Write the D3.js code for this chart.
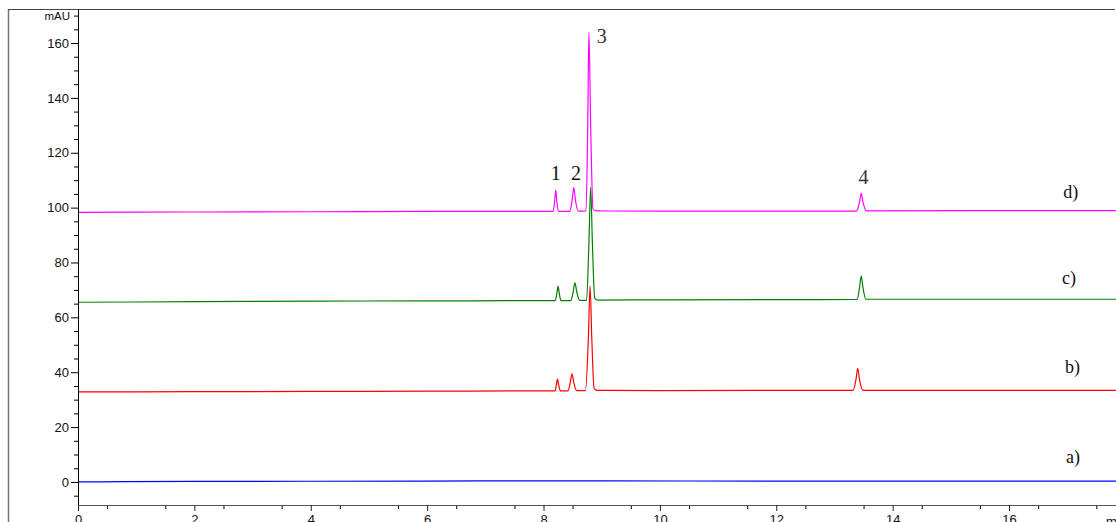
<!DOCTYPE html>
<html>
<head>
<meta charset="utf-8">
<script src="https://cdn.jsdelivr.net/npm/d3@7"></script>
<style>
  body { margin: 0; background: #fff; overflow: hidden; }
  svg { display: block; }
</style>
</head>
<body>
<svg id="chart" width="1116" height="522"></svg>
<script>
// tick values
let xTicks = [0, 2, 4, 6, 8, 10, 12, 14, 16];
let yTicks = [0, 20, 40, 60, 80, 100, 120, 140, 160];

// traces: [time (min), signal (mAU)]
let traceA = [[0, 0.0], [0.8, 0.1], [2, 0.2], [6, 0.3], [7.3, 0.4], [9, 0.4], [12, 0.3], [16, 0.3], [18.1, 0.3]];

let traceB = [[0, 32.8], [2, 32.9], [4, 33.0], [6, 33.1], [8.15, 33.2],
  [8.20, 33.2], [8.22, 35.4], [8.24, 37.5], [8.26, 35.4], [8.29, 33.2],
  [8.42, 33.2], [8.46, 36.3], [8.49, 39.4], [8.52, 36.3], [8.57, 33.3],
  [8.72, 33.3], [8.77, 52], [8.80, 71.4], [8.83, 52], [8.87, 34], [8.92, 33.4],
  [10, 33.3], [13.28, 33.4],
  [13.32, 33.4], [13.37, 37.4], [13.40, 41.4], [13.43, 37.4], [13.49, 33.4],
  [16, 33.4], [18.1, 33.4]];

let traceC = [[0, 65.5], [2, 65.7], [4, 65.9], [6, 66.0], [8.1, 66.1],
  [8.20, 66.1], [8.23, 68.8], [8.25, 71.4], [8.27, 68.8], [8.30, 66.1],
  [8.47, 66.1], [8.51, 69.4], [8.54, 72.6], [8.57, 69.4], [8.62, 66.2],
  [8.74, 66.2], [8.78, 87], [8.81, 107.4], [8.84, 87], [8.88, 67], [8.93, 66.3],
  [10, 66.4], [13.35, 66.5],
  [13.39, 66.5], [13.43, 70.8], [13.46, 75.0], [13.49, 70.8], [13.54, 66.6],
  [16, 66.6], [18.1, 66.6]];

let traceD = [[0, 98.3], [2, 98.4], [4, 98.5], [6, 98.6], [8.1, 98.6],
  [8.16, 98.6], [8.19, 102], [8.21, 106.4], [8.23, 102], [8.26, 98.6],
  [8.45, 98.6], [8.49, 102.5], [8.52, 107.3], [8.55, 102.5], [8.60, 98.7],
  [8.73, 98.8], [8.76, 130], [8.78, 163.9], [8.81, 130], [8.85, 99.5], [8.90, 98.8],
  [10, 98.7], [13.33, 98.7],
  [13.38, 98.8], [13.43, 102], [13.46, 105.2], [13.49, 102], [13.55, 98.8],
  [16, 98.9], [18.1, 98.9]];

let traceColors = ["#0000ff", "#ff0000", "#008000", "#ff00ff"];

// annotations in data coordinates
let peakLabels = [
  { text: "1", t: 8.21, v: 110.1, color: "#111" },
  { text: "2", t: 8.56, v: 110.1, color: "#111" },
  { text: "3", t: 9.00, v: 160.0, color: "#333" },
  { text: "4", t: 13.50, v: 108.6, color: "#333" }
];
let traceLabels = [
  { text: "a)", t: 16.98, v: 6.9 },
  { text: "b)", t: 16.96, v: 39.7 },
  { text: "c)", t: 16.91, v: 72.2 },
  { text: "d)", t: 16.93, v: 103.5 }
];

var svg = d3.select("#chart");

var x = d3.scaleLinear().domain([0, 18.1]).range([78, 78 + 18.1 * 58.19]);
var y = d3.scaleLinear().domain([-8.4, 172.4]).range([505, 9]);

// outer frame (left and top)
svg.append("line")
  .attr("x1", 8.5).attr("x2", 8.5).attr("y1", 9).attr("y2", 522)
  .attr("stroke", "#777").attr("stroke-width", 1.5);
svg.append("line")
  .attr("x1", 8).attr("x2", 1115).attr("y1", 9.5).attr("y2", 9.5)
  .attr("stroke", "#444").attr("stroke-width", 1.2);

// traces
var line = d3.line()
  .x(function(d) { return x(d[0]); })
  .y(function(d) { return y(d[1]); })
  .curve(d3.curveMonotoneX);

[traceA, traceB, traceC, traceD].forEach(function(tr, i) {
  svg.append("path")
    .datum(tr)
    .attr("d", line)
    .attr("fill", "none")
    .attr("stroke", traceColors[i])
    .attr("stroke-width", 1.2);
});

// y axis
var yMinor = d3.range(-5, 171, 5).filter(function(v) { return v % 20 !== 0; });
svg.append("g")
  .attr("transform", "translate(78,0)")
  .call(d3.axisLeft(y).tickValues(yMinor).tickSize(4).tickFormat(""))
  .call(function(g) { g.select(".domain").remove(); });

var yAxis = svg.append("g")
  .attr("transform", "translate(78,0)")
  .call(d3.axisLeft(y).tickValues(yTicks).tickSize(7).tickSizeOuter(0).tickPadding(2));
yAxis.select(".domain").attr("d", "M0.5," + y(172.4) + "V" + y(-8.4));
yAxis.selectAll("text")
  .style("font-family", "'Liberation Sans', Arial, sans-serif")
  .style("font-size", "13px")
  .attr("fill", "#111");

svg.append("text")
  .attr("x", 70).attr("y", y(170))
  .attr("dy", "0.35em")
  .attr("text-anchor", "end")
  .style("font-family", "'Liberation Sans', Arial, sans-serif")
  .style("font-size", "11.5px")
  .attr("fill", "#111")
  .text("mAU");

// x axis
var xMinor = d3.range(0.5, 18.1, 1);
svg.append("g")
  .attr("transform", "translate(0,505)")
  .call(d3.axisBottom(x).tickValues(xMinor).tickSize(4).tickFormat(""))
  .call(function(g) { g.select(".domain").remove(); });

var xAxis = svg.append("g")
  .attr("transform", "translate(0,505)")
  .call(d3.axisBottom(x).tickValues(xTicks.concat([18])).tickSize(6).tickSizeOuter(0).tickPadding(4)
    .tickFormat(function(d) { return d === 18 ? "" : d; }));
xAxis.select(".domain").attr("stroke", "#555");
xAxis.selectAll(".tick line").attr("stroke", "#222");
xAxis.selectAll("text")
  .style("font-family", "'Liberation Sans', Arial, sans-serif")
  .style("font-size", "13px")
  .attr("fill", "#111");

svg.append("text")
  .attr("x", 1106).attr("y", 526)
  .style("font-family", "'Liberation Sans', Arial, sans-serif")
  .style("font-size", "13px")
  .attr("fill", "#111")
  .text("min");

// peak numbers
svg.selectAll(".peak")
  .data(peakLabels)
  .enter().append("text")
  .attr("class", "peak")
  .attr("x", function(d) { return x(d.t); })
  .attr("y", function(d) { return y(d.v); })
  .attr("text-anchor", "middle")
  .style("font-family", "'Liberation Serif', 'Times New Roman', serif")
  .style("font-size", "20px")
  .attr("fill", function(d) { return d.color; })
  .text(function(d) { return d.text; });

// trace labels
svg.selectAll(".tlabel")
  .data(traceLabels)
  .enter().append("text")
  .attr("class", "tlabel")
  .attr("x", function(d) { return x(d.t); })
  .attr("y", function(d) { return y(d.v); })
  .style("font-family", "'Liberation Serif', 'Times New Roman', serif")
  .style("font-size", "18px")
  .attr("fill", "#111")
  .text(function(d) { return d.text; });
</script>
</body>
</html>
